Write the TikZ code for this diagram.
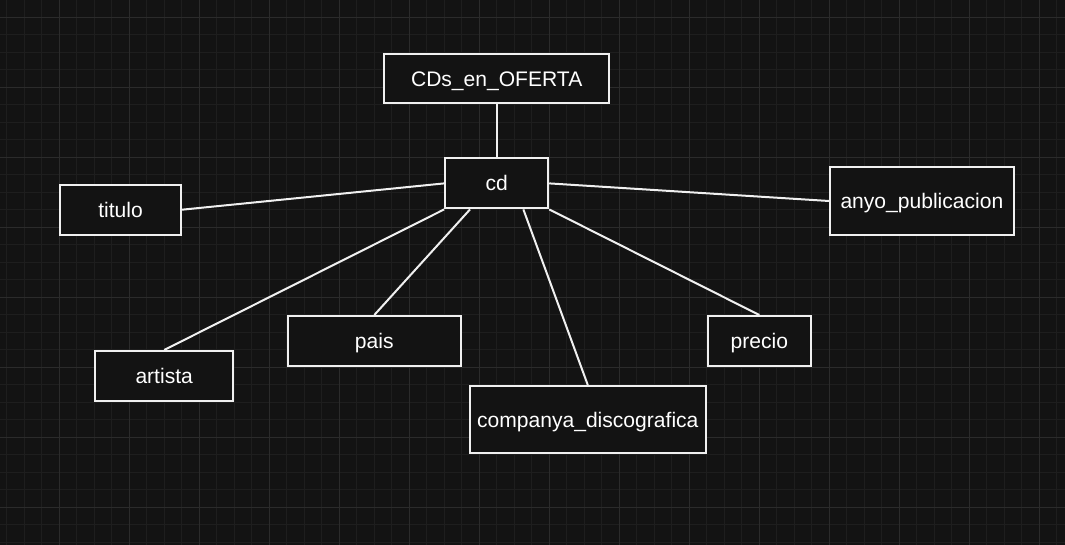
\documentclass[tikz,border=0pt]{standalone}
\usepackage{fontspec}
\setmainfont{Liberation Sans}
\definecolor{bgc}{HTML}{131313}
\definecolor{minorc}{HTML}{1E1E1E}
\definecolor{majorc}{HTML}{2B2B2B}
\definecolor{linec}{HTML}{F0F0F0}
\tikzset{
  ent/.style={draw=linec, line width=1.5pt, fill=bgc, text=white, inner sep=0pt,
    font=\fontsize{15.8}{18}\selectfont, text height=11.3pt, text depth=0pt},
  conn/.style={draw=linec, line width=1.5pt},
}
\begin{document}
\begin{tikzpicture}[x=0.75pt,y=-0.75pt]
\fill[bgc] (0,0) rectangle (1065,545);
\useasboundingbox (0,0) rectangle (1065,545);
% minor grid
\foreach \i in {0,...,61} {
  \draw[minorc, line width=0.75pt] ({6.8+17.5*\i},0) -- ({6.8+17.5*\i},545);
}
\foreach \j in {0,...,32} {
  \draw[minorc, line width=0.75pt] (0,{-0.2+17.5*\j}) -- (1065,{-0.2+17.5*\j});
}
% major grid
\foreach \i in {0,...,15} {
  \draw[majorc, line width=0.75pt] ({-10.7+70*\i},0) -- ({-10.7+70*\i},545);
}
\foreach \j in {0,...,8} {
  \draw[majorc, line width=0.75pt] (0,{17.3+70*\j}) -- (1065,{17.3+70*\j});
}
% nodes
\node[ent, minimum width=169.1pt, minimum height=37.2pt] (ofer) at (496.7,78.5) {CDs\_en\_OFERTA};
\node[ent, minimum width=77.3pt, minimum height=37.5pt] (cd) at (496.7,183.4) {cd};
\node[ent, minimum width=90.8pt, minimum height=37.5pt] (titulo) at (120.5,209.7) {titulo};
\node[ent, minimum width=137.9pt, minimum height=50.6pt] (anyo) at (921.9,201) {anyo\_publicacion};
\node[ent, minimum width=103.7pt, minimum height=37.4pt] (artista) at (164.2,375.9) {artista};
\node[ent, minimum width=130pt, minimum height=37.5pt] (pais) at (374.3,341) {pais};
\node[ent, minimum width=77.5pt, minimum height=37.5pt] (precio) at (759.3,341) {precio};
\node[ent, minimum width=177.2pt, minimum height=50.5pt] (comp) at (587.8,419.7) {companya\_discografica};
% connectors
\draw[conn] (ofer.south) -- (cd.north);
\draw[conn] (titulo.east) -- (cd.west);
\draw[conn] (cd.east) -- (anyo.west);
\draw[conn] (cd.south west) -- (artista.north);
\draw[conn] ([xshift=-20pt]cd.south) -- (pais.north);
\draw[conn] ([xshift=20pt]cd.south) -- (comp.north);
\draw[conn] (cd.south east) -- (precio.north);
\end{tikzpicture}
\end{document}
